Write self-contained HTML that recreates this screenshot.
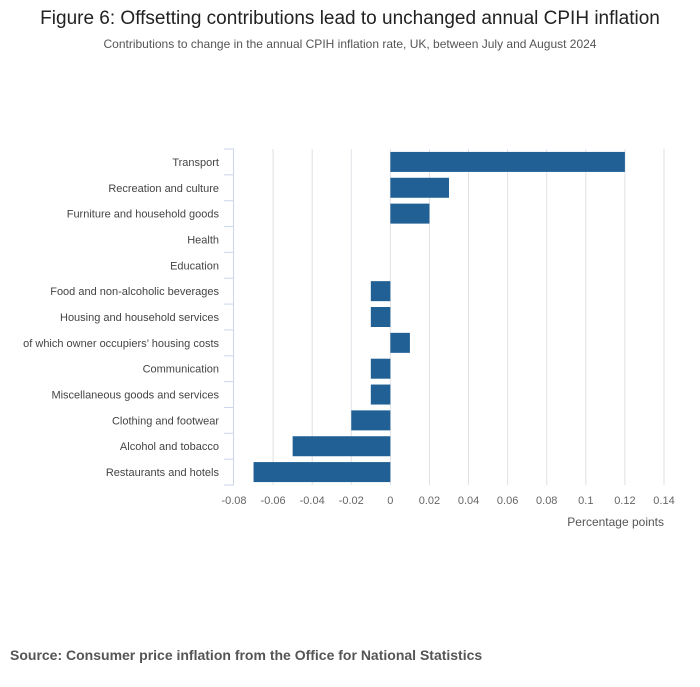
<!DOCTYPE html>
<html><head><meta charset="utf-8">
<style>
body{margin:0;background:#fff;width:700px;height:682px;overflow:hidden;font-family:"Liberation Sans",sans-serif;}
</style></head>
<body>
<svg id="chart" width="700" height="682" xmlns="http://www.w3.org/2000/svg" font-family="Liberation Sans, sans-serif">
<text x="350" y="24" text-anchor="middle" font-size="19" fill="#222">Figure 6: Offsetting contributions lead to unchanged annual CPIH inflation</text>
<text x="350" y="48" text-anchor="middle" font-size="12" fill="#555">Contributions to change in the annual CPIH inflation rate, UK, between July and August 2024</text>
<g id="grid"></g><g id="bars"></g><g id="yaxis"></g><g id="xaxis"></g>
<text x="664" y="526" text-anchor="end" font-size="12" fill="#555">Percentage points</text>
<text x="10" y="660" font-size="14" font-weight="bold" fill="#555">Source: Consumer price inflation from the Office for National Statistics</text>
</svg>
<script>
const categories=["Transport","Recreation and culture","Furniture and household goods","Health","Education","Food and non-alcoholic beverages","Housing and household services","of which owner occupiers’ housing costs","Communication","Miscellaneous goods and services","Clothing and footwear","Alcohol and tobacco","Restaurants and hotels"];
const values=[0.12,0.03,0.02,0,0,-0.01,-0.01,0.01,-0.01,-0.01,-0.02,-0.05,-0.07];
const xTicks=[-0.08,-0.06,-0.04,-0.02,0,0.02,0.04,0.06,0.08,0.1,0.12,0.14];
const xMin=-0.08,xMax=0.14,plotL=234,plotR=664,plotT=149,plotB=485;
const ns="http://www.w3.org/2000/svg";
const xs=v=>plotL+(v-xMin)/(xMax-xMin)*(plotR-plotL);
const band=(plotB-plotT)/categories.length;
const ys=i=>plotT+i*band;
function mk(t,a,p){const e=document.createElementNS(ns,t);for(const k in a)e.setAttribute(k,a[k]);p.appendChild(e);return e;}
const g=document.getElementById('grid'),b=document.getElementById('bars'),ya=document.getElementById('yaxis'),xa=document.getElementById('xaxis');
xTicks.forEach(t=>{
 if(t!==xMin){const l=mk('line',{x1:xs(t),x2:xs(t),y1:plotT,y2:plotB,stroke:'#e0e0e6','stroke-width':1},g);
 
 }
 const tx=mk('text',{x:xs(t),y:504,'text-anchor':'middle','font-size':11,fill:'#666'},xa);
 tx.textContent=String(t);
 
 
});
const ax=mk('line',{x1:plotL-0.5,x2:plotL-0.5,y1:plotT,y2:plotB,stroke:'#ccd6eb'},ya);


for(let i=0;i<=categories.length;i++){const tk=mk('line',{x1:plotL-10,x2:plotL,y1:ys(i),y2:ys(i),stroke:'#ccd6eb'},ya);
 
 }
categories.forEach((c,i)=>{
 const t=mk('text',{x:219,y:ys(i)+band/2+4,'text-anchor':'end','font-size':11,fill:'#444'},ya);
 t.textContent=c;
 
 
 const v=values[i];if(v===0)return;
 const r=mk('rect',{x:Math.min(xs(0),xs(v)),y:ys(i)+band/2-10,width:Math.abs(xs(v)-xs(0)),height:20,fill:'#206095'},b);
 
 
});
</script>
</body></html>
